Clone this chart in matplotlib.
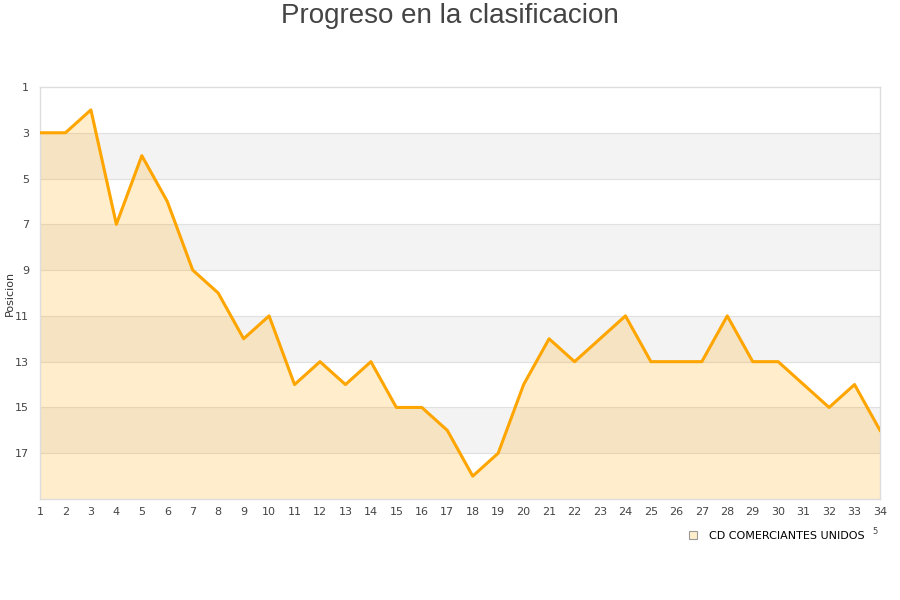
import matplotlib
matplotlib.use("Agg")
import matplotlib.pyplot as plt
from matplotlib.lines import Line2D

jornadas = list(range(1, 35))
posiciones = [3, 3, 2, 7, 4, 6, 9, 10, 12, 11, 14, 13, 14, 13, 15, 15, 16, 18, 17, 14,
              12, 13, 12, 11, 13, 13, 13, 11, 13, 13, 14, 15, 14, 16]
yticks = [1, 3, 5, 7, 9, 11, 13, 15, 17]
equipo = "CD COMERCIANTES UNIDOS"
titulo = "Progreso en la clasificacion"

fig = plt.figure(figsize=(9, 6), dpi=100)
ax = fig.add_axes([40/900, 1-499/600, 840/900, 412/600])
ax.set_xlim(1, 34)
ax.set_ylim(19, 1)

# alternating bands
for i, lo in enumerate(range(1, 19, 2)):
    if i % 2 == 1:
        ax.axhspan(lo, lo + 2, color="#f3f3f3", zorder=0, lw=0)
for t in yticks[1:]:
    ax.axhline(t, color="#e0e0e0", lw=0.8, zorder=1)

ax.fill_between(jornadas, posiciones, 19, color="#FFA500", alpha=0.2, lw=0, zorder=2)
ax.plot(jornadas, posiciones, color="#FFA500", lw=2.2, zorder=3)

ax.set_yticks(yticks)
ax.set_xticks(jornadas)
ax.tick_params(axis="both", length=0, labelsize=8, colors="#444444")
ax.tick_params(axis="x", pad=6)
ax.tick_params(axis="y", pad=8)
for s in ax.spines.values():
    s.set_color("#dddddd")
    s.set_linewidth(1)

ax.set_ylabel("Posicion", fontsize=8, color="#333333")
ax.yaxis.set_label_coords(-25/840, 0.5)
fig.text(0.5, 1-16/600, titulo, ha="center", va="center", fontsize=20,
         color="#444444", family=["Liberation Sans", "DejaVu Sans"])

handle = Line2D([], [], marker="s", linestyle="none", markersize=6,
                markerfacecolor="#FFEECC", markeredgecolor="#999999", markeredgewidth=0.8)
leg = fig.legend([handle], [equipo], loc="center", bbox_to_anchor=(773/900, 1-536/600),
                 frameon=False, fontsize=8, handletextpad=0.4, borderaxespad=0)
fig.text(875/900, 1-532/600, "5", fontsize=6, color="#444444", ha="center", va="center")

fig.savefig("out.png", dpi=100)
